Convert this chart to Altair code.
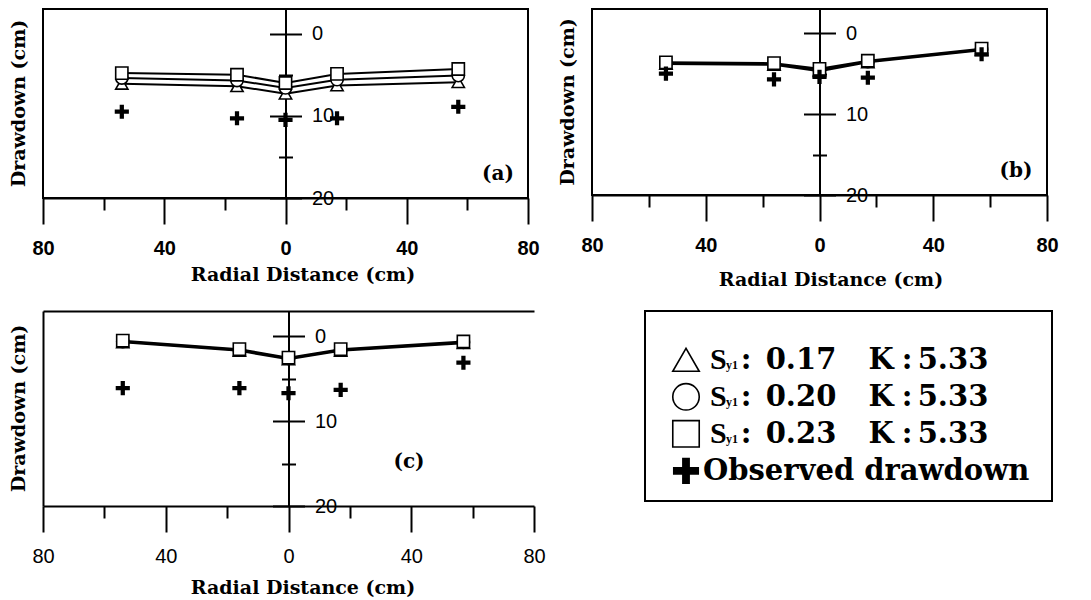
import altair as alt
import pandas as pd

# ---------------- data ----------------
radial = [-54, -16, 0, 17, 57]
series = ["Sy1 0.17", "Sy1 0.20", "Sy1 0.23"]
shapes = ["triangle-up", "circle", "square"]

a_sy017 = [6.1, 6.4, 7.3, 6.3, 5.9]
a_sy020 = [5.4, 5.7, 6.6, 5.6, 5.1]
a_sy023 = [4.8, 5.0, 6.0, 4.9, 4.3]
a_obs = [9.5, 10.3, 10.5, 10.3, 8.9]

b_sy017 = [3.8, 3.9, 4.7, 3.6, 2.1]
b_sy020 = [3.7, 3.8, 4.5, 3.5, 2.0]
b_sy023 = [3.6, 3.7, 4.4, 3.4, 1.9]
b_obs = [5.0, 5.7, 5.4, 5.5, 2.6]

c_sy017 = [0.7, 1.7, 2.7, 1.7, 0.8]
c_sy020 = [0.6, 1.6, 2.6, 1.6, 0.7]
c_sy023 = [0.5, 1.5, 2.5, 1.5, 0.6]
c_obs = [6.1, 6.1, 6.7, 6.3, 3.1]

x_major = [-80, -40, 0, 40, 80]
x_minor = [-60, -20, 20, 60]
y_major = [0, 10, 20]
y_minor = [5, 15]

leg_sy = ["0.17", "0.20", "0.23"]
leg_k = ["5.33", "5.33", "5.33"]
obs_label = "Observed drawdown"

# ---------------- style ----------------
SERIF = "DejaVu Serif"
TIMES = "Liberation Serif"
SANS = "Liberation Sans"
PLUS = "M-0.3,-1H0.3V-0.3H1V0.3H0.3V1H-0.3V0.3H-1V-0.3H-0.3Z"


def panel(sims, obs, W, H, tag, tag_dx, tag_dy, bold, framed, title_dx, title_y):
    rows = []
    for name, vals in zip(series, sims):
        for r, v in zip(radial, vals):
            rows.append({"r": r, "d": v, "s": name})
    sim = pd.DataFrame(rows)
    obs_df = pd.DataFrame({"r": radial, "d": obs})
    xs = alt.Scale(domain=[-80, 80], nice=False, zero=False)
    ys = alt.Scale(domain=[-3, 20], nice=False, zero=False, reverse=True)
    half = W / 2

    ax_x_major = alt.Axis(
        orient="bottom", values=x_major, tickSize=26, tickWidth=2, tickColor="black",
        domain=True, domainWidth=2, domainColor="black", grid=False,
        labelExpr="'' + abs(datum.value)", labelFont=SANS, labelFontSize=20,
        labelFontWeight="bold" if bold else "normal", labelColor="black",
        labelPadding=14, labelFlush=False, labelOverlap=False,
        title="Radial Distance (cm)", titleFont=SERIF, titleFontSize=19,
        titleFontWeight="bold", titleColor="black", titleX=W / 2 + title_dx,
        titleY=title_y, titleAlign="center", titleBaseline="middle")
    ax_x_minor = alt.Axis(
        orient="bottom", values=x_minor, tickSize=12, tickWidth=2, tickColor="black",
        domain=False, labels=False, grid=False, title=None)
    ax_y_left = alt.Axis(
        orient="left", offset=-half, values=y_major, tickSize=16, tickWidth=2,
        tickColor="black", domain=True, domainWidth=2, domainColor="black",
        labels=False, grid=False, title=None)
    ax_y_right = alt.Axis(
        orient="right", offset=-half, values=y_major, tickSize=16, tickWidth=2,
        tickColor="black", domain=False, labels=True, labelFont=SANS,
        labelFontSize=20, labelColor="black", labelPadding=10, labelAlign="left",
        labelBaseline="middle", labelOverlap=False, labelFlush=False,
        grid=False, title=None)
    ax_y_left_minor = alt.Axis(
        orient="left", offset=-half, values=y_minor, tickSize=7, tickWidth=2,
        tickColor="black", domain=False, labels=False, grid=False, title=None)
    ax_y_right_minor = alt.Axis(
        orient="right", offset=-half, values=y_minor, tickSize=7, tickWidth=2,
        tickColor="black", domain=False, labels=False, grid=False, title=None)

    lines = alt.Chart(sim).mark_line(color="black", strokeWidth=2).encode(
        x=alt.X("r:Q", scale=xs, axis=ax_x_major),
        y=alt.Y("d:Q", scale=ys, axis=ax_y_left),
        detail="s:N",
    )
    pts = alt.Chart(sim).mark_point(
        filled=True, fill="white", stroke="black", strokeWidth=1.6, size=150, opacity=1
    ).encode(
        x=alt.X("r:Q", scale=xs, axis=ax_x_minor),
        y=alt.Y("d:Q", scale=ys, axis=ax_y_right),
        shape=alt.Shape("s:N", scale=alt.Scale(domain=series, range=shapes), legend=None),
    )
    ob = alt.Chart(obs_df).mark_point(
        shape=PLUS, filled=True, color="black", size=200, opacity=1
    ).encode(
        x=alt.X("r:Q", scale=xs, axis=None),
        y=alt.Y("d:Q", scale=ys, axis=ax_y_left_minor),
    )
    inv = alt.Chart(obs_df).mark_point(opacity=0).encode(
        x=alt.X("r:Q", scale=xs, axis=None),
        y=alt.Y("d:Q", scale=ys, axis=ax_y_right_minor),
    )
    layers = [lines, pts, ob, inv]
    if not framed:
        frame = alt.Chart(obs_df).mark_point(opacity=0).encode(
            x=alt.X("r:Q", scale=xs, axis=alt.Axis(
                orient="top", domain=True, domainWidth=2, domainColor="black",
                ticks=False, labels=False, grid=False, title=None)),
            y=alt.Y("d:Q", scale=ys, axis=alt.Axis(
                orient="left", domain=True, domainWidth=2, domainColor="black",
                ticks=False, labels=False, grid=False, title=None)),
        )
        layers.append(frame)
    tag_l = alt.Chart(pd.DataFrame({"t": [tag]})).mark_text(
        font=SERIF, fontSize=20, fontWeight="bold", align="center",
        baseline="middle", color="black"
    ).encode(x=alt.value(W - tag_dx), y=alt.value(H - tag_dy), text="t:N")
    ytitle = alt.Chart(pd.DataFrame({"t": ["Drawdown (cm)"]})).mark_text(
        font=SERIF, fontSize=19, fontWeight="bold", align="center",
        baseline="middle", angle=270, color="black"
    ).encode(x=alt.value(-24), y=alt.value(H / 2), text="t:N")
    layers += [tag_l, ytitle]
    ch = alt.layer(*layers).resolve_axis(x="independent", y="independent").properties(
        width=W, height=H)
    if not framed:
        ch = ch.properties(view=alt.ViewBackground(stroke="transparent"))
    return ch


pa = panel([a_sy017, a_sy020, a_sy023], a_obs, 485, 189, "(a)", 30, 24, True, True, 17, 76)
pb = panel([b_sy017, b_sy020, b_sy023], b_obs, 455, 186, "(b)", 31, 24, True, True, 11, 84)
pc = panel([c_sy017, c_sy020, c_sy023], c_obs, 491, 195, "(c)", 125, 44, False, False, 14, 81)

# ---------------- legend box ----------------
LW, LH = 407, 190
ly = alt.Scale(domain=[-1.32, 3.815], nice=False, zero=False, reverse=True)
leg_rows = pd.DataFrame({"row": [0, 1, 2], "s": series, "sy": leg_sy, "k": leg_k})
obs_row = pd.DataFrame({"row": [3], "t": [obs_label]})
Y = alt.Y("row:Q", scale=ly, axis=None)

sym = alt.Chart(leg_rows).mark_point(
    filled=False, color="black", strokeWidth=1.6, size=700, opacity=1
).encode(
    x=alt.value(41), y=Y,
    shape=alt.Shape("s:N", scale=alt.Scale(domain=series, range=shapes), legend=None),
)
plus = alt.Chart(obs_row).mark_point(
    shape=PLUS, filled=True, color="black", size=680, opacity=1
).encode(x=alt.value(41), y=Y)


def ltext(data, text, x, font=SERIF, size=29, align="center", dy=0):
    return alt.Chart(data).mark_text(
        font=font, fontSize=size, fontWeight="bold", align=align,
        baseline="middle", color="black", dy=dy
    ).encode(x=alt.value(x), y=Y, text=text)


leg_layers = [
    sym, plus,
    ltext(leg_rows, alt.value("S"), 65, font=TIMES, size=30, align="left"),
    ltext(leg_rows, alt.value("y1"), 81, font=TIMES, size=12, align="left", dy=5),
    ltext(leg_rows, alt.value(":"), 101),
    ltext(leg_rows, "sy:N", 156),
    ltext(leg_rows, alt.value("K"), 236),
    ltext(leg_rows, alt.value(":"), 262),
    ltext(leg_rows, "k:N", 308),
    ltext(obs_row, "t:N", 58, align="left"),
]
legend = alt.layer(*leg_layers).properties(width=LW, height=LH)

top = alt.hconcat(pa, pb, spacing=16)
bottom = alt.hconcat(pc, legend, spacing=97)
chart = alt.vconcat(top, bottom, spacing=20).properties(
    padding={"left": 0, "top": 0, "right": 5, "bottom": 5},
    background="white",
).configure_view(stroke="black", strokeWidth=2)

chart.save("out.html", embed_options={"renderer": "svg", "actions": False})
